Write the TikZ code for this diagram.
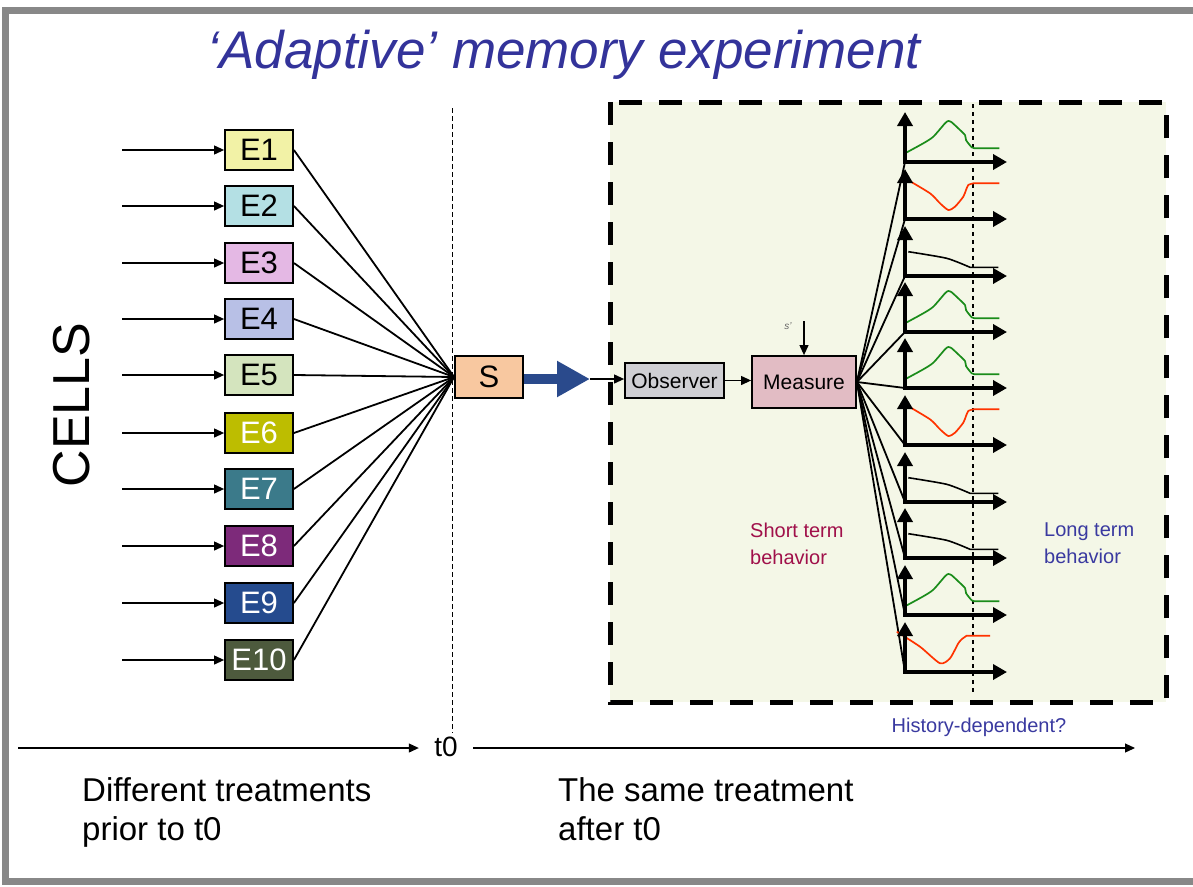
\documentclass[tikz,border=0pt]{standalone}
\usepackage{fontspec}
\setmainfont{Liberation Sans}
\usetikzlibrary{arrows.meta,calc}

\definecolor{framegray}{HTML}{888888}
\definecolor{panelfill}{HTML}{F4F7E7}
\definecolor{titleblue}{HTML}{33339A}
\definecolor{shortred}{HTML}{A0104A}
\definecolor{longblue}{HTML}{3A3AA0}
\definecolor{bigarrow}{HTML}{2A4A8C}
\definecolor{sfill}{HTML}{F8C8A0}
\definecolor{obsfill}{HTML}{CFCFD3}
\definecolor{measfill}{HTML}{E2BCC4}
\definecolor{curvegreen}{HTML}{1A8C1A}
\definecolor{curvered}{HTML}{FF3300}
\definecolor{ea}{HTML}{F2F2A6}
\definecolor{eb}{HTML}{B4E0E4}
\definecolor{ec}{HTML}{E4B8E4}
\definecolor{ed}{HTML}{B8C0E6}
\definecolor{ee}{HTML}{D4E4BE}
\definecolor{ef}{HTML}{BDBD00}
\definecolor{eg}{HTML}{3B7A8A}
\definecolor{eh}{HTML}{7D2A7A}
\definecolor{ei}{HTML}{254B8E}
\definecolor{ej}{HTML}{4D5A3D}

\begin{document}
\begin{tikzpicture}[x=1pt,y=-1pt,
  ebox/.style={draw, line width=1.8pt, minimum width=68pt, minimum height=40pt,
    inner sep=0pt, font=\fontsize{31}{31}\selectfont},
  inarrow/.style={line width=1.1pt, -{Triangle[length=10pt,width=9pt]}},
  fanline/.style={line width=1.8pt},
  procbox/.style={draw, line width=1.8pt, inner sep=0pt, font=\fontsize{21}{21}\selectfont},
  axes/.style={line width=4pt, {Triangle[length=14pt,width=15pt]}-{Triangle[length=14pt,width=15pt]}},
  gcurve/.style={curvegreen, line width=1.7pt},
  rcurve/.style={curvered, line width=1.7pt},
  kcurve/.style={black, line width=1.6pt},
  greenpeak/.pic={\draw[gcurve] plot[smooth, tension=0.4] coordinates {(0,-8.7) (18.3,-18.7) (28.3,-25.3) (40,-38.7) (43.3,-41) (46.7,-39.7) (55,-32) (60,-27) (61,-22) (63.3,-18.7) (66.7,-14.7) (70,-13.7)} -- (94.3,-13.7);},
  reddip/.pic={\draw[rcurve] plot[smooth, tension=0.4] coordinates {(0,-40.7) (25,-25.7) (35,-15.7) (43.3,-9) (50,-12.3) (58.3,-22.3) (61,-29) (63.3,-34) (68.3,-35.7)} -- (94.3,-35.7);},
  reddipb/.pic={\draw[rcurve] plot[smooth, tension=0.4] coordinates {(-8.3,-40.3) (15,-25.3) (35,-8.7) (45,-13.7) (53.3,-28.7) (57,-33) (61.7,-36.3)} -- (85,-36.3);},
  blackdecay/.pic={\draw[kcurve] plot[smooth, tension=0.4] coordinates {(3.3,-24.3) (41.7,-17.7) (65,-8.7)} -- (93.3,-8.7);}
]
\useasboundingbox (0,0) rectangle (1193,886);

% outer frame
\draw[framegray, line width=7pt] (1205,10) -- (5,10) -- (5,881) -- (1205,881);

% post-t0 panel
\draw[line width=5pt, fill=panelfill, dash pattern=on 23pt off 17pt] (610,102) rectangle (1166,702);

% title
\node[font=\itshape\fontsize{53}{53}\selectfont, text=titleblue] (title) at (564,55) {‘Adaptive’ memory experiment};

% cells label
\node[rotate=90, font=\fontsize{52}{52}\selectfont] (cells) at (72,405) {CELLS};

% t0 separator
\draw[line width=0.9pt, dash pattern=on 5pt off 3pt] (452,108) -- (452,733);

% stimulus box
\node[ebox, fill=sfill, minimum height=42pt] (S) at (489,377) {S};

% treatment boxes
\foreach \n/\y/\c/\t in {1/150/ea/black, 2/206/eb/black, 3/263/ec/black, 4/319/ed/black, 5/375/ee/black,
                         6/433/ef/white, 7/489/eg/white, 8/546/eh/white, 9/603/ei/white, 10/660/ej/white} {
  \node[ebox, fill=\c, text=\t] (E\n) at (259,\y) {E\n};
  \coordinate (in\n) at (122,\y);
  \draw[inarrow] (in\n) -- (E\n.west);
  \draw[fanline] (E\n.east) -- (S.west);
}

% observer chain
\coordinate (bt) at (590,379);
\draw[bigarrow, line width=10pt, -{Triangle[length=33pt,width=34pt]}] (S.east |- bt) -- (bt);
\node[procbox, fill=obsfill, minimum width=99pt, minimum height=35pt] (obs) at (674.5,380.5) {Observer};
\node[procbox, fill=measfill, minimum width=104pt, minimum height=52pt] (meas) at (804,382) {Measure};
\draw[inarrow] (bt) -- (bt -| obs.west);
\draw[inarrow] (obs.east) -- (obs.east -| meas.west);

% measurement input
\coordinate (sin) at (804,321);
\draw[inarrow] (sin) -- (meas.north);
\node[font=\itshape\fontsize{10}{10}\selectfont, text=black!60] (slab) at (788,326) {s'};

% long-term marker
\draw[line width=1.5pt, dash pattern=on 4pt off 4pt] (973,104) -- (973,692);

% response plots
\foreach \i/\b in {1/162,2/219,3/276,4/332,5/388,6/445,7/502,8/558,9/615,10/672} {
  \coordinate (p\i) at (905,\b);
  \draw[fanline] (meas.east) -- (p\i);
}
\foreach \i/\k in {1/greenpeak,2/reddip,3/blackdecay,4/greenpeak,5/greenpeak,6/reddip,7/blackdecay,8/blackdecay,9/greenpeak,10/reddipb} {
  \pic at (p\i) {\k};
  \draw[axes] ($(p\i)+(0,-50)$) -- (p\i) -- ($(p\i)+(102,0)$);
}

% panel labels
\node[anchor=north west, align=left, inner sep=0pt, text=shortred, font=\fontsize{20}{27}\selectfont] (short) at (750,523) {Short term\\behavior};
\node[anchor=north west, align=left, inner sep=0pt, text=longblue, font=\fontsize{20}{27}\selectfont] (long) at (1044,523) {Long term\\behavior};
\node[text=longblue, font=\fontsize{20}{20}\selectfont] (hist) at (979,727) {History-dependent?};

% time line
\node[inner sep=0pt, minimum width=54pt, font=\fontsize{28}{28}\selectfont] (t0) at (446,747) {t0};
\coordinate (ta) at (18,748);
\coordinate (tb) at (1135,748);
\draw[inarrow] (ta) -- (ta -| t0.west);
\draw[inarrow] (tb -| t0.east) -- (tb);

\node[anchor=north west, align=left, inner sep=0pt, font=\fontsize{33}{39}\selectfont] (before) at (82,777) {Different treatments\\prior to t0};
\node[anchor=north west, align=left, inner sep=0pt, font=\fontsize{33}{39}\selectfont] (after) at (558,777) {The same treatment\\after t0};
\end{tikzpicture}
\end{document}
